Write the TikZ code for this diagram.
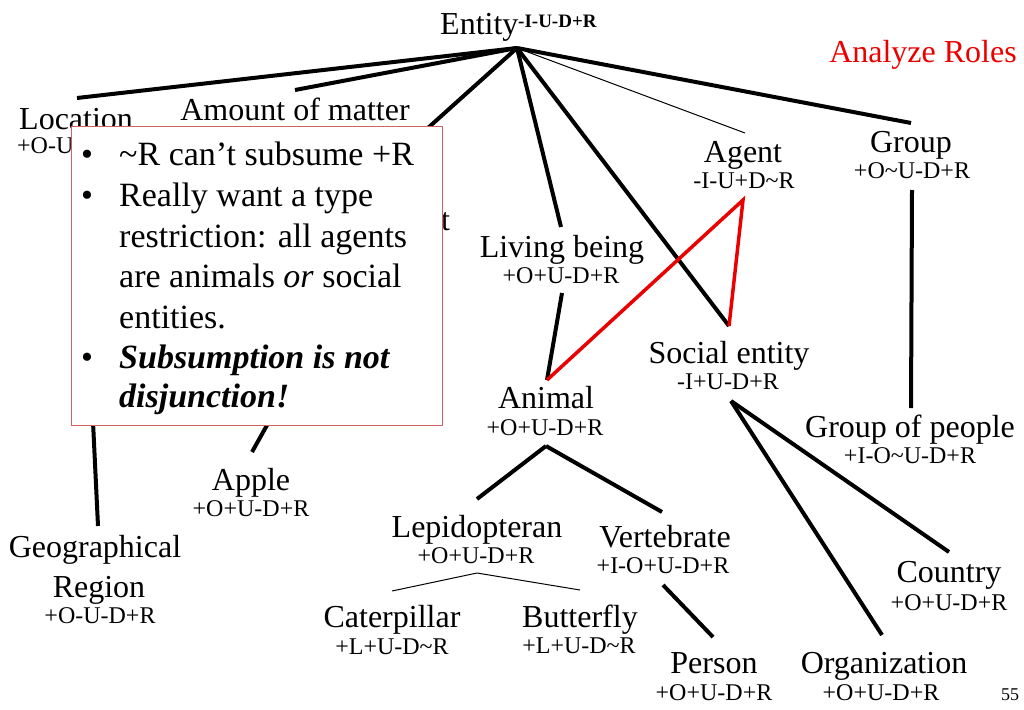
\documentclass[tikz,border=0pt]{standalone}
\usepackage{fontspec}
\setmainfont{Liberation Serif}
\definecolor{boxred}{RGB}{205,100,100}
\definecolor{rolered}{RGB}{235,0,0}
\begin{document}
\begin{tikzpicture}[x=1pt,y=-1pt,
  lbl/.style={inner sep=0pt, anchor=base, font=\fontsize{32}{36}\selectfont},
  ann/.style={inner sep=0pt, anchor=base, font=\fontsize{24}{28}\selectfont},
  bx/.style={inner sep=0pt, anchor=base west, font=\fontsize{34}{40}\selectfont},
  bul/.style={inner sep=0pt, anchor=base west, font=\fontsize{34}{40}\selectfont},
  heavy/.style={line width=4pt},
  light/.style={line width=1pt},
  redline/.style={line width=3.5pt, draw=rolered, line join=miter},
]
\useasboundingbox (0,0) rectangle (1024,709);

% ---------- labels ----------
\node[lbl, anchor=base west] (entity) at (440,35) {Entity};
\node[inner sep=0pt, anchor=base west, font=\fontsize{19}{22}\selectfont\bfseries] (entitysup) at (518,28) {-I-U-D+R};
\node[lbl, text=rolered] (roles) at (923,63) {Analyze Roles};

\node[lbl, anchor=base west] (location) at (19,129) {Location};
\node[ann, anchor=base west] (locationann) at (17,153) {+O-U};
\node[lbl] (amount) at (295,120) {Amount of matter};
\node[lbl, anchor=base west] (hiddent) at (441,230) {t};

\node[lbl] (agent) at (743,162) {Agent};
\node[ann] (agentann) at (744,188) {-I-U+D\textasciitilde R};
\node[lbl] (group) at (911,152) {Group};
\node[ann] (groupann) at (912,178) {+O\textasciitilde U-D+R};
\node[lbl] (living) at (562,257) {Living being};
\node[ann] (livingann) at (561,283) {+O+U-D+R};
\node[lbl] (social) at (729,363) {Social entity};
\node[ann] (socialann) at (728,389) {-I+U-D+R};
\node[lbl] (animal) at (546,408) {Animal};
\node[ann] (animalann) at (545,435) {+O+U-D+R};
\node[lbl] (gop) at (910,437) {Group of people};
\node[ann] (gopann) at (910,463) {+I-O\textasciitilde U-D+R};
\node[lbl] (apple) at (251,490) {Apple};
\node[ann] (appleann) at (251,516) {+O+U-D+R};
\node[lbl] (geo) at (95,557) {Geographical};
\node[lbl] (region) at (99,597) {Region};
\node[ann] (regionann) at (100,623) {+O-U-D+R};
\node[lbl] (lepi) at (477,537) {Lepidopteran};
\node[ann] (lepiann) at (476,563) {+O+U-D+R};
\node[lbl] (vert) at (665,547) {Vertebrate};
\node[ann] (vertann) at (663,573) {+I-O+U-D+R};
\node[lbl] (country) at (949,582) {Country};
\node[ann] (countryann) at (949,610) {+O+U-D+R};
\node[lbl] (cater) at (392,627) {Caterpillar};
\node[ann] (caterann) at (392,654) {+L+U-D\textasciitilde R};
\node[lbl] (butter) at (580,627) {Butterfly};
\node[ann] (butterann) at (579,653) {+L+U-D\textasciitilde R};
\node[lbl] (person) at (714,673) {Person};
\node[ann] (personann) at (714,700) {+O+U-D+R};
\node[lbl] (org) at (884,673) {Organization};
\node[ann] (organn) at (881,700) {+O+U-D+R};
\node[inner sep=0pt, anchor=base, font=\fontsize{18}{20}\selectfont] (pagenum) at (1010,700) {55};

% ---------- connector end points ----------
\coordinate (hub) at (517,48);
\coordinate (locT) at (77,98);
\coordinate (amountT) at (295,90);
\coordinate (hiddenT) at (380,171);
\coordinate (agentT) at (745,133);
\coordinate (groupT) at (911,123);
\coordinate (livingT) at (561,227);
\coordinate (socialT) at (729,326);
\coordinate (livingB) at (562,293);
\coordinate (animalT) at (547,380);
\coordinate (agentB) at (743,200);
\coordinate (groupB) at (912,190);
\coordinate (gopT) at (911,408);
\coordinate (animalB) at (546,446);
\coordinate (lepiT) at (477,499);
\coordinate (vertT) at (662,512);
\coordinate (vertB) at (663,585);
\coordinate (personT) at (713,637);
\coordinate (socialB) at (731,401);
\coordinate (countryT) at (949,552);
\coordinate (orgT) at (882,635);
\coordinate (lepiB) at (477,573);
\coordinate (caterT) at (392,591);
\coordinate (butterT) at (580,590);
\coordinate (locB) at (91,380);
\coordinate (geoT) at (98,526);
\coordinate (hiddenB) at (290,384);
\coordinate (appleT) at (252,452);

% ---------- connectors ----------
\draw[heavy] (hub) -- (locT);
\draw[heavy] (hub) -- (amountT);
\draw[heavy] (hub) -- (hiddenT);
\draw[light] (hub) -- (agentT);
\draw[heavy] (hub) -- (groupT);
\draw[heavy] (hub) -- (livingT);
\draw[heavy] (hub) -- (socialT);
\draw[heavy] (livingB) -- (animalT);
\draw[heavy] (groupB) -- (gopT);
\draw[heavy] (animalB) -- (lepiT);
\draw[heavy] (animalB) -- (vertT);
\draw[heavy] (vertB) -- (personT);
\draw[heavy] (socialB) -- (countryT);
\draw[heavy] (socialB) -- (orgT);
\draw[light] (caterT) -- (lepiB) -- (butterT);
\draw[heavy] (locB) -- (geoT);
\draw[heavy] (hiddenB) -- (appleT);
\draw[redline] (animalT) -- (agentB) -- (socialT);

% ---------- call-out box ----------
\draw[draw=boxred, line width=1pt, fill=white] (71,126) rectangle (442,425);
\node[bul] (b1) at (81,165) {•};
\node[bx] (t1) at (119,165) {\textasciitilde R can’t subsume +R};
\node[bul] (b2) at (81,206) {•};
\node[bx] (t2) at (119,206) {Really want a type};
\node[bx] (t3) at (119,247) {restriction: all agents};
\node[bx] (t4) at (119,287) {are animals \textit{or} social};
\node[bx] (t5) at (119,328) {entities.};
\node[bul] (b3) at (81,368) {•};
\node[bx] (t6) at (119,368) {\textbf{\textit{Subsumption is not}}};
\node[bx] (t7) at (119,407) {\textbf{\textit{disjunction!}}};
\end{tikzpicture}
\end{document}
